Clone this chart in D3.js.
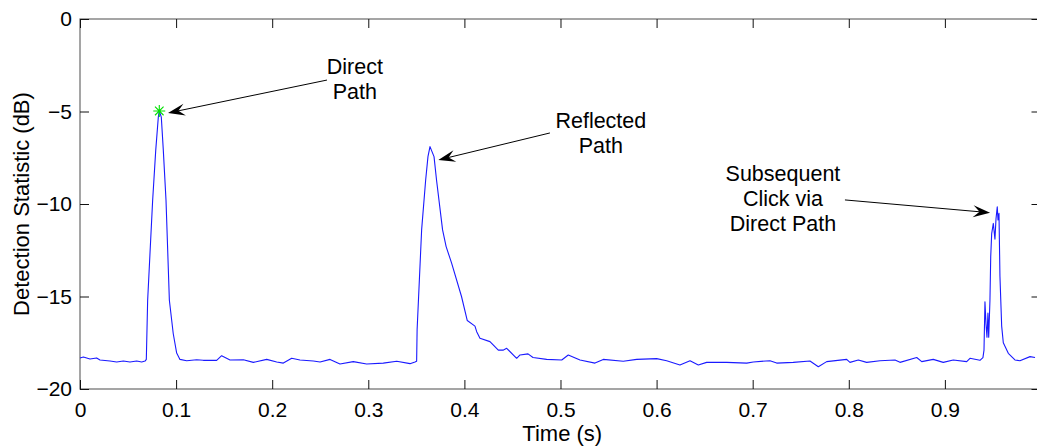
<!DOCTYPE html>
<html>
<head>
<meta charset="utf-8">
<script src="https://cdn.jsdelivr.net/npm/d3@7"></script>
<style>
  html, body { margin: 0; padding: 0; background: #fff; }
  svg { display: block; font-family: "Liberation Sans", Arial, sans-serif; }
</style>
</head>
<body>
<svg id="chart" width="1037" height="447"></svg>
<script>
// Detection statistic over time (s, dB)
const time = [
  0.000, 0.0035, 0.0104, 0.0173, 0.0208, 0.0312, 0.0382, 0.0451, 0.0520, 0.0590,
  0.0642, 0.0677, 0.0690, 0.0704, 0.0756, 0.0788, 0.0815, 0.0825, 0.0846, 0.0867,
  0.0895, 0.0930, 0.0970, 0.1006, 0.1040, 0.1110, 0.1214, 0.1283, 0.1422, 0.1474,
  0.1561, 0.1700, 0.1804, 0.1943, 0.2047, 0.2116, 0.2203, 0.2289, 0.2428, 0.2498,
  0.2602, 0.2705, 0.2844, 0.2983, 0.3156, 0.3296, 0.3434, 0.3486, 0.3503, 0.3508,
  0.3555, 0.3597, 0.3621, 0.3642, 0.3684, 0.3710, 0.3773, 0.3810, 0.3867, 0.3970,
  0.4030, 0.4110, 0.4128, 0.4162, 0.4266, 0.4353, 0.4402, 0.4440, 0.4544, 0.4579,
  0.4662, 0.4714, 0.4856, 0.5013, 0.5081, 0.5203, 0.5359, 0.5445, 0.5653, 0.5793,
  0.6001, 0.6105, 0.6243, 0.6348, 0.6434, 0.6521, 0.6729, 0.6938, 0.7006, 0.7180,
  0.7250, 0.7422, 0.7596, 0.7683, 0.7770, 0.7978, 0.8012, 0.8099, 0.8186, 0.8325,
  0.8481, 0.8533, 0.8707, 0.8759, 0.8879, 0.8983, 0.9087, 0.9227, 0.9261, 0.9365,
  0.9396, 0.9407, 0.9417, 0.9428, 0.9438, 0.9448, 0.9456, 0.9469, 0.9477, 0.9487,
  0.9504, 0.9521, 0.9532, 0.9545, 0.9553, 0.9563, 0.9573, 0.9591, 0.9608, 0.9660,
  0.9729, 0.9781, 0.9886, 0.9938
];
const detection = [
  -18.32, -18.27, -18.38, -18.32, -18.43, -18.49, -18.54, -18.49, -18.54, -18.49,
  -18.54, -18.49, -18.40, -15.20, -9.80, -7.10, -5.30, -4.97, -5.30, -7.10,
  -9.80, -15.20, -17.00, -18.06, -18.40, -18.47, -18.42, -18.45, -18.45, -18.20,
  -18.43, -18.42, -18.56, -18.40, -18.54, -18.60, -18.34, -18.43, -18.49, -18.54,
  -18.40, -18.65, -18.52, -18.65, -18.60, -18.50, -18.63, -18.54, -18.50, -16.80,
  -11.40, -8.70, -7.44, -6.90, -7.44, -8.70, -11.40, -12.30, -13.20, -15.00,
  -16.30, -16.60, -16.90, -17.26, -17.44, -17.90, -17.90, -17.80, -18.34, -18.16,
  -18.10, -18.30, -18.40, -18.43, -18.16, -18.43, -18.60, -18.40, -18.50, -18.40,
  -18.36, -18.47, -18.70, -18.47, -18.70, -18.56, -18.56, -18.60, -18.54, -18.47,
  -18.60, -18.56, -18.49, -18.80, -18.52, -18.40, -18.56, -18.43, -18.56, -18.47,
  -18.43, -18.56, -18.30, -18.52, -18.40, -18.56, -18.43, -18.52, -18.34, -18.45,
  -18.30, -17.90, -15.28, -16.50, -17.20, -15.90, -17.20, -15.20, -12.85, -11.60,
  -11.05, -11.90, -10.80, -10.15, -10.86, -10.50, -13.90, -16.60, -17.50, -18.07,
  -18.43, -18.47, -18.25, -18.30
];

// Marked maximum of the direct-path arrival
const peakTime = [0.0825];
const peakValue = [-4.97];

// Axis ticks
const xTicks = [0, 0.1, 0.2, 0.3, 0.4, 0.5, 0.6, 0.7, 0.8, 0.9];
const yTicks = [0, -5, -10, -15, -20];

// Annotation text and arrows (data units)
const noteLines = [["Direct", "Path"], ["Reflected", "Path"], ["Subsequent", "Click via", "Direct Path"]];
const noteTextT = [0.286, 0.542, 0.7315];
const noteTextV = [-2.97, -5.89, -8.76];
const arrowFromT = [0.257, 0.489, 0.796];
const arrowFromV = [-3.30, -6.16, -9.78];
const arrowToT = [0.0916, 0.3729, 0.947];
const arrowToV = [-5.08, -7.62, -10.47];

const svg = d3.select("#chart");
const tickFont = 21;
const labelFont = 22;
const noteFont = 21.5;

const x = d3.scaleLinear().domain([0, 0.9995]).range([80, 1040.5]);
const y = d3.scaleLinear().domain([-20, 0]).range([389, 19]);

// Axes box
svg.append("rect")
  .attr("x", x(0)).attr("y", y(0))
  .attr("width", x.range()[1] - x(0)).attr("height", y(-20) - y(0))
  .attr("fill", "none").attr("stroke", "#6a6a6a").attr("stroke-width", 1.2);

function styleAxis(g) {
  g.select(".domain").remove();
  g.selectAll(".tick line").attr("stroke", "#111").attr("stroke-width", 1);
  g.selectAll("text").attr("fill", "#000").style("font-size", tickFont + "px");
}

svg.append("g").attr("transform", `translate(0,${y(-20)})`)
  .call(d3.axisBottom(x).tickValues(xTicks).tickSizeInner(-9).tickSizeOuter(0)
    .tickPadding(13).tickFormat(d => d === 0 ? "0" : d3.format(".1f")(d)))
  .call(styleAxis);
svg.append("g").attr("transform", `translate(0,${y(0)})`)
  .call(d3.axisTop(x).tickValues(xTicks).tickSizeInner(-9).tickSizeOuter(0).tickFormat(""))
  .call(styleAxis);
svg.append("g").attr("transform", `translate(${x(0)},0)`)
  .call(d3.axisLeft(y).tickValues(yTicks).tickSizeInner(-9).tickSizeOuter(0).tickPadding(8)
    .tickFormat(d3.format("d")))
  .call(styleAxis);
svg.append("g").attr("transform", `translate(${x.range()[1]},0)`)
  .call(d3.axisRight(y).tickValues(yTicks).tickSizeInner(-9).tickSizeOuter(0).tickFormat(""))
  .call(styleAxis);

// Axis titles
svg.append("text")
  .attr("x", (x(0) + x.range()[1]) / 2 + 2).attr("y", 441)
  .attr("text-anchor", "middle").style("font-size", labelFont + "px")
  .text("Time (s)");
svg.append("text")
  .attr("transform", `translate(29,${(y(0) + y(-20)) / 2}) rotate(-90)`)
  .attr("text-anchor", "middle").style("font-size", labelFont + "px")
  .text("Detection Statistic (dB)");

// Detection statistic trace
const pts = time.map((t, i) => [t, detection[i]]);
svg.append("path")
  .datum(pts)
  .attr("fill", "none").attr("stroke", "#1a1aff").attr("stroke-width", 1.1)
  .attr("stroke-linejoin", "round")
  .attr("d", d3.line().x(d => x(d[0])).y(d => y(d[1])));

// Green asterisk at the direct-path peak
peakTime.forEach((t, i) => {
  const cx = x(t), cy = y(peakValue[i]);
  const a = 6, b = 4.3;
  svg.append("path")
    .attr("d", `M${cx - a},${cy}L${cx + a},${cy}M${cx},${cy - a}L${cx},${cy + a}` +
               `M${cx - b},${cy - b}L${cx + b},${cy + b}M${cx - b},${cy + b}L${cx + b},${cy - b}`)
    .attr("stroke", "#00e000").attr("stroke-width", 1.1).attr("fill", "none");
});

// Annotations with arrows
noteLines.forEach((lines, i) => {
  const t = svg.append("text")
    .attr("text-anchor", "middle").style("font-size", noteFont + "px").attr("fill", "#000");
  lines.forEach((ln, j) => {
    t.append("tspan").attr("x", x(noteTextT[i])).attr("y", y(noteTextV[i]) + j * 25).text(ln);
  });

  const x1 = x(arrowFromT[i]), y1 = y(arrowFromV[i]);
  const x2 = x(arrowToT[i]), y2 = y(arrowToV[i]);
  const ang = Math.atan2(y2 - y1, x2 - x1);
  const L = 17, W = 12;
  svg.append("line")
    .attr("x1", x1).attr("y1", y1)
    .attr("x2", x2 - Math.cos(ang) * L * 0.6).attr("y2", y2 - Math.sin(ang) * L * 0.6)
    .attr("stroke", "#000").attr("stroke-width", 1);
  svg.append("path")
    .attr("d", `M0,0L${-L},${-W / 2}L${-L * 0.62},0L${-L},${W / 2}Z`)
    .attr("transform", `translate(${x2},${y2}) rotate(${ang * 180 / Math.PI})`)
    .attr("fill", "#000");
});
</script>
</body>
</html>
